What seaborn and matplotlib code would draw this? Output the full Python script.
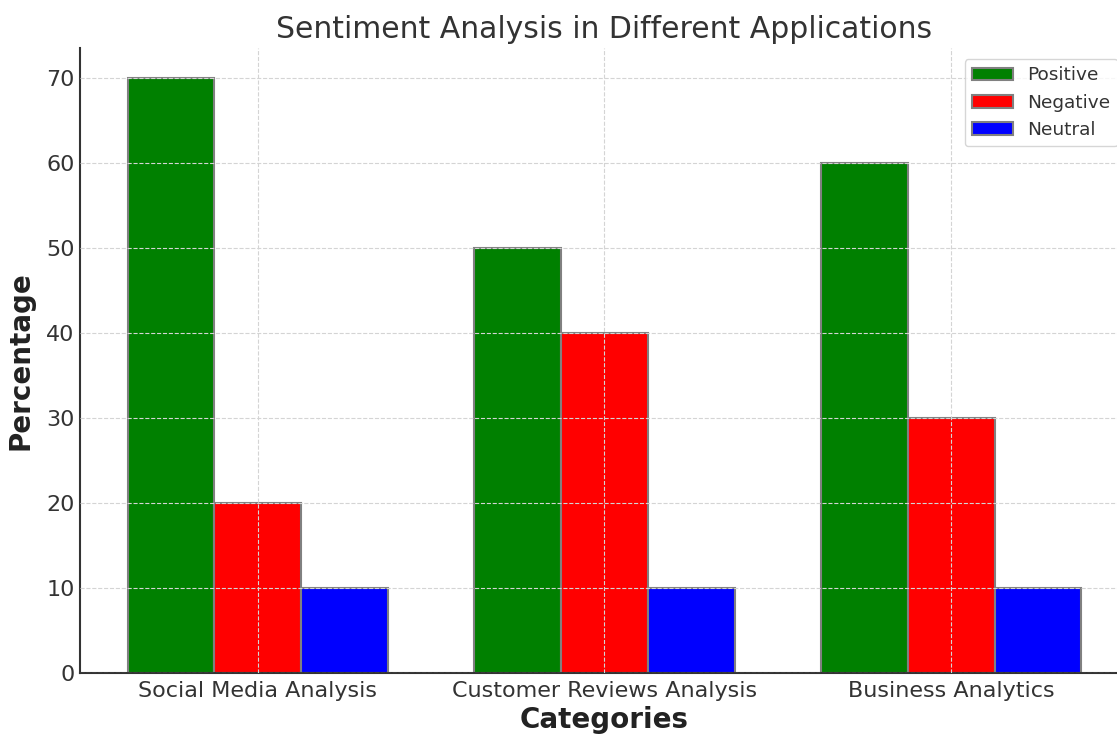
import matplotlib
matplotlib.use("Agg")
import matplotlib.pyplot as plt
import seaborn as sns
import pandas as pd

categories = ["Social Media Analysis", "Customer Reviews Analysis", "Business Analytics"]
sentiments = ["Positive", "Negative", "Neutral"]
positive = [70, 50, 60]
negative = [20, 40, 30]
neutral = [10, 10, 10]
colors = ["green", "red", "blue"]

rows = []
for s, vals in zip(sentiments, [positive, negative, neutral]):
    for c, v in zip(categories, vals):
        rows.append({"Category": c, "Sentiment": s, "Percentage": v})
df = pd.DataFrame(rows)

sns.set_style("white")
plt.rcParams["font.family"] = ["DejaVu Sans"]
txt = "#333333"

fig = plt.figure(figsize=(11.17, 7.35), dpi=100)
ax = fig.add_axes([80/1117, 62/735, 1049/1117, 625/735])

sns.barplot(data=df, x="Category", y="Percentage", hue="Sentiment",
            hue_order=sentiments, palette=colors, width=0.75,
            edgecolor="grey", linewidth=1.5, saturation=1, ax=ax)

ax.set_xlim(-0.5125, 2.5125)
ax.set_ylim(0, 73.5)
ax.set_yticks(range(0, 71, 10))
ax.set_axisbelow(False)
ax.grid(True, linestyle="--", color="#d4d4d4", linewidth=0.8)

for side in ["top", "right"]:
    ax.spines[side].set_visible(False)
for side in ["left", "bottom"]:
    ax.spines[side].set_color("#333333")
    ax.spines[side].set_linewidth(1.5)

ax.tick_params(axis="both", direction="in", length=5, width=1, colors="#333333",
               labelsize=16, labelcolor=txt, pad=4)
ax.tick_params(axis="x", pad=5.5)
ax.set_title("Sentiment Analysis in Different Applications", fontsize=21.5, color=txt, pad=7)
ax.set_xlabel("Categories", fontsize=20, fontweight="bold", color="#222222", labelpad=4)
ax.set_ylabel("Percentage", fontsize=20, fontweight="bold", color="#222222", labelpad=8)

leg = ax.legend(loc="upper right", fontsize=13.3, frameon=True, title=None,
                handlelength=2.2, borderaxespad=0.6)
leg.get_frame().set_edgecolor("#cccccc")
for t in leg.get_texts():
    t.set_color(txt)

fig.savefig("out.png", dpi=100)
